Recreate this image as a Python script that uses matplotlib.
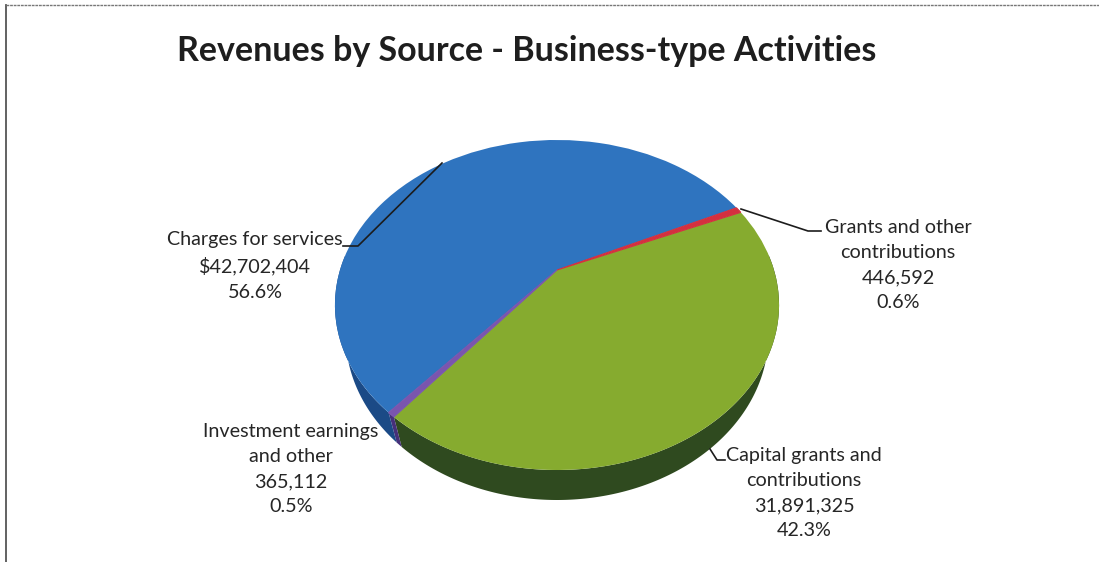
import numpy as np
import matplotlib
matplotlib.use('Agg')
import matplotlib.pyplot as plt
from matplotlib.transforms import Transform

plt.rcParams['font.family'] = ['Lato', 'DejaVu Sans']

sources = ['Grants and other\ncontributions', 'Capital grants and\ncontributions',
           'Investment earnings\nand other', 'Charges for services']
amounts = [446592, 31891325, 365112, 42702404]
amount_labels = ['446,592', '31,891,325', '365,112', '$42,702,404']
percents = ['0.6%', '42.3%', '0.5%', '56.6%']
top_colors = ['#d4303f', '#86ab2f', '#7a55ae', '#2f74bf']
side_colors = ['#7a1a22', '#2f4a1f', '#46307a', '#1b4a86']

START_ANGLE = 25.5
DEPTH = 30
BOTTOM_SHRINK = 0.952

# Perspective tilt of the pie, in pixels
CX, CY, BX, BY, TILT = 557.0, 270.0, 217.0, 157.6, 0.212


def project(u, v):
    w = 1 + TILT * v
    return CX + BX * u / w, CY - BY * v / w


class TiltTransform(Transform):
    input_dims = 2
    output_dims = 2
    is_separable = False
    has_inverse = False

    def transform_non_affine(self, values):
        values = np.asarray(values)
        x, y = project(values[:, 0], values[:, 1])
        return np.column_stack([x, y])


fig = plt.figure(figsize=(10.99, 5.62), dpi=100)
ax = fig.add_axes([0, 0, 1, 1])

wedges, _ = ax.pie(amounts, colors=top_colors, startangle=START_ANGLE,
                   counterclock=False, radius=1, center=(0, 0), frame=False)
ax.set_aspect('auto')
ax.set_xlim(0, 1099)
ax.set_ylim(562, 0)
ax.axis('off')

# Side of the pie, the bottom rim sits lower and a bit narrower than the top
for wedge, side in zip(wedges, side_colors):
    a = np.linspace(wedge.theta1, wedge.theta2, 300)
    a = a[np.sin(np.radians(a)) < 0.1]
    if len(a) < 2:
        continue
    x, y = project(np.cos(np.radians(a)), np.sin(np.radians(a)))
    x2 = CX + (x - CX) * BOTTOM_SHRINK
    ax.fill(np.r_[x, x2[::-1]], np.r_[y, y[::-1] + DEPTH], color=side, lw=0, zorder=1)

for wedge, color, amount in zip(wedges, top_colors, amounts):
    wedge.set_transform(TiltTransform() + ax.transData)
    wedge.set_edgecolor('none')
    wedge.set_zorder(2)
    # the two thin slices look a little wider in the scan
    if amount < 1000000:
        wedge.set_edgecolor(color)
        wedge.set_linewidth(0.8)
        wedge.set_zorder(2.5)

# Leader lines
leaders = [
    ([741, 209, 808, 231, 821, 231]),
    ([710, 449, 717, 460, 725, 460]),
    ([343, 246, 358, 246, 442, 163]),
]
for pts in leaders:
    ax.plot(pts[0::2], pts[1::2], color='#1c1c1c', lw=1.2, zorder=3)

# Labels
text_kw = dict(ha='center', va='center', fontsize=14.2, color='#262626', linespacing=1.58, zorder=4)
label_xy = [(898, 265), (804, 493), (291, 469), (255, 266)]
for (x, y), name, amount, pct in zip(label_xy, sources, amount_labels, percents):
    ax.text(x, y, f'{name}\n{amount}\n{pct}', **text_kw)

ax.text(527, 51, 'Revenues by Source - Business-type Activities', ha='center', va='center',
        fontsize=24.5, fontweight='bold', color='#1e1e1e')

# Scanned frame
ax.plot([6, 6], [562, 5], color='#555555', lw=1.3, zorder=5)
ax.plot([6, 1099], [5, 5], color='#777777', lw=1.0, ls=(0, (2, 0.6)), zorder=5)

fig.savefig('out.png', dpi=100)
